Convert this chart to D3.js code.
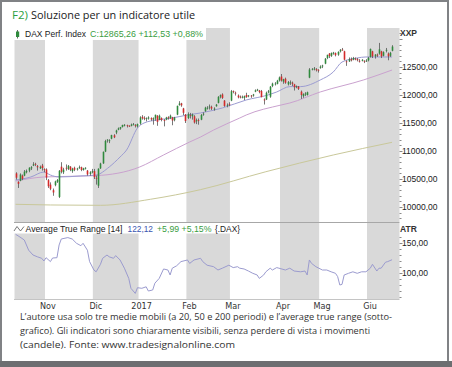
<!DOCTYPE html>
<html><head><meta charset="utf-8">
<script src="https://cdn.jsdelivr.net/npm/d3@7"></script>
<style>body{margin:0;background:#fff}svg{display:block}</style>
</head><body><svg id="c" width="452" height="367"></svg>
<script>
const dates = [
"2016-10-12","2016-10-13","2016-10-14","2016-10-17","2016-10-18","2016-10-19","2016-10-20","2016-10-21","2016-10-24","2016-10-25","2016-10-26","2016-10-27","2016-10-28","2016-10-31",
"2016-11-01","2016-11-02","2016-11-03","2016-11-04","2016-11-07","2016-11-08","2016-11-09","2016-11-10","2016-11-11","2016-11-14","2016-11-15","2016-11-16","2016-11-17","2016-11-18","2016-11-21","2016-11-22","2016-11-23","2016-11-24","2016-11-25","2016-11-28","2016-11-29","2016-11-30",
"2016-12-01","2016-12-02","2016-12-05","2016-12-06","2016-12-07","2016-12-08","2016-12-09","2016-12-12","2016-12-13","2016-12-14","2016-12-15","2016-12-16","2016-12-19","2016-12-20","2016-12-21","2016-12-22","2016-12-23","2016-12-27","2016-12-28","2016-12-29","2016-12-30",
"2017-01-02","2017-01-03","2017-01-04","2017-01-05","2017-01-06","2017-01-09","2017-01-10","2017-01-11","2017-01-12","2017-01-13","2017-01-16","2017-01-17","2017-01-18","2017-01-19","2017-01-20","2017-01-23","2017-01-24","2017-01-25","2017-01-26","2017-01-27","2017-01-30","2017-01-31",
"2017-02-01","2017-02-02","2017-02-03","2017-02-06","2017-02-07","2017-02-08","2017-02-09","2017-02-10","2017-02-13","2017-02-14","2017-02-15","2017-02-16","2017-02-17","2017-02-20","2017-02-21","2017-02-22","2017-02-23","2017-02-24","2017-02-27","2017-02-28",
"2017-03-01","2017-03-02","2017-03-03","2017-03-06","2017-03-07","2017-03-08","2017-03-09","2017-03-10","2017-03-13","2017-03-14","2017-03-15","2017-03-16","2017-03-17","2017-03-20","2017-03-21","2017-03-22","2017-03-23","2017-03-24","2017-03-27","2017-03-28","2017-03-29","2017-03-30","2017-03-31",
"2017-04-03","2017-04-04","2017-04-05","2017-04-06","2017-04-07","2017-04-10","2017-04-11","2017-04-12","2017-04-13","2017-04-18","2017-04-19","2017-04-20","2017-04-21","2017-04-24","2017-04-25","2017-04-26","2017-04-27","2017-04-28",
"2017-05-02","2017-05-03","2017-05-04","2017-05-05","2017-05-08","2017-05-09","2017-05-10","2017-05-11","2017-05-12","2017-05-15","2017-05-16","2017-05-17","2017-05-18","2017-05-19","2017-05-22","2017-05-23","2017-05-24","2017-05-25","2017-05-26","2017-05-29","2017-05-30","2017-05-31",
"2017-06-01","2017-06-02","2017-06-06","2017-06-07","2017-06-08","2017-06-09","2017-06-12","2017-06-13","2017-06-14","2017-06-15","2017-06-16","2017-06-19"];

const open = [
10600,10450,10470,10560,10560,10620,10650,10690,10740,10770,10730,10690,10740,10680,
10670,10480,10400,10300,10390,10450,10180,10720,10620,10700,10680,10720,10640,10700,10670,10700,10710,10660,10690,10650,10590,10620,
10640,10520,10380,10690,10780,10990,11190,11180,11220,11280,11330,11380,11400,11430,11460,11460,11450,11450,11470,11460,11440,
11490,11610,11590,11580,11580,11590,11560,11580,11630,11560,11590,11550,11560,11600,11590,11600,11550,11650,11820,11850,11760,11650,
11590,11640,11620,11620,11530,11550,11560,11650,11710,11770,11780,11790,11740,11800,11860,11970,12010,11900,11820,11840,
11900,12070,12040,11990,11970,11960,11950,12000,11980,11990,11990,12060,12090,12080,12070,11920,11920,12050,11970,12160,12200,12200,12260,
12330,12240,12290,12190,12220,12220,12190,12150,12150,12060,11980,12010,12000,12310,12460,12470,12460,12450,
12480,12510,12560,12660,12740,12700,12740,12750,12720,12780,12810,12780,12600,12600,12640,12630,12650,12640,12610,12610,12610,12600,
12620,12680,12780,12690,12720,12740,12780,12700,12790,12740,12700,12790];
const high = [
10620,10460,10600,10580,10660,10670,10710,10730,10800,10790,10750,10740,10770,10690,
10690,10500,10440,10330,10470,10500,10660,10800,10700,10760,10750,10730,10700,10720,10700,10740,10720,10700,10710,10660,10640,10680,
10680,10560,10690,10790,10990,11200,11210,11210,11290,11300,11380,11420,11430,11470,11480,11470,11460,11490,11500,11480,11490,
11620,11640,11620,11600,11620,11600,11600,11650,11640,11650,11600,11570,11610,11620,11650,11610,11610,11810,11890,11860,11770,11660,
11690,11680,11670,11640,11580,11580,11660,11690,11790,11800,11830,11810,11780,11840,11980,12010,12030,11910,11850,11870,
12090,12080,12060,12010,11990,11990,11990,12040,12000,12000,12020,12100,12110,12090,12090,11940,12060,12090,12160,12220,12230,12270,12330,
12375,12290,12310,12250,12260,12240,12200,12170,12160,12080,12030,12050,12060,12480,12480,12500,12480,12460,
12530,12540,12660,12720,12750,12760,12770,12760,12780,12820,12840,12790,12620,12670,12670,12680,12670,12660,12640,12640,12620,12640,
12680,12830,12790,12730,12740,12930,12790,12780,12840,12760,12770,12890];
const low = [
10490,10340,10460,10480,10550,10600,10620,10660,10730,10730,10650,10680,10650,10620,
10480,10340,10300,10200,10370,10430,10160,10600,10590,10650,10660,10640,10610,10640,10650,10680,10640,10650,10670,10560,10560,10600,
10500,10400,10340,10680,10770,10980,11150,11140,11210,11230,11300,11370,11380,11420,11440,11420,11430,11440,11460,11420,11420,
11470,11560,11550,11530,11560,11540,11470,11540,11450,11550,11530,11440,11550,11560,11570,11460,11530,11640,11810,11790,11640,11500,
11570,11580,11560,11490,11480,11470,11550,11630,11700,11740,11740,11730,11720,11790,11850,11940,11930,11790,11780,11800,
11890,12030,11990,11940,11940,11940,11910,11950,11960,11950,11970,12050,12070,12030,11960,11830,11910,12030,11950,12140,12170,12190,12240,
12240,12200,12200,12170,12180,12160,12080,12120,12090,11930,11950,11980,11990,12300,12440,12440,12420,12400,
12470,12480,12550,12640,12660,12680,12720,12690,12700,12760,12790,12620,12520,12590,12600,12620,12620,12600,12580,12600,12570,12590,
12600,12670,12660,12650,12680,12720,12660,12690,12760,12620,12680,12780];
const close = [
10523,10414,10580,10504,10631,10645,10701,10710,10761,10757,10709,10717,10696,10665,
10526,10370,10325,10259,10456,10482,10646,10630,10668,10693,10735,10663,10685,10664,10687,10713,10662,10689,10700,10582,10621,10640,
10534,10513,10684,10775,10986,11179,11203,11190,11284,11244,11366,11404,11427,11464,11468,11456,11449,11472,11475,11451,11481,
11599,11584,11585,11584,11599,11563,11583,11646,11521,11629,11555,11540,11599,11597,11630,11545,11595,11806,11848,11815,11682,11535,
11659,11627,11651,11509,11549,11543,11643,11666,11774,11772,11793,11757,11757,11827,11967,11998,11947,11804,11823,11834,
12067,12059,12027,11958,11966,11967,11978,11963,11990,11988,12009,12083,12095,12052,11962,11904,12040,12064,12149,12203,12204,12256,12313,
12257,12282,12218,12230,12225,12200,12139,12154,12109,12000,12016,12027,12049,12455,12467,12472,12443,12438,
12507,12527,12648,12717,12694,12749,12757,12711,12770,12808,12804,12631,12590,12638,12619,12659,12642,12621,12602,12629,12599,12615,
12664,12822,12690,12722,12714,12816,12690,12765,12806,12691,12753,12865];

// moving averages (trading-day index, value)
const ma20Idx = [0,7,13,16,20,30,37,43,48,51,56,59,65,72,79,85,95,106,116,120,126,131,140,146,150,157,161,173];
const ma20Val = [10482,10536,10625,10571,10536,10554,10571,10714,10893,11018,11410,11500,11554,11590,11643,11679,11768,11911,12000,12054,12150,12150,12268,12411,12589,12661,12679,12679];
const ma50Idx = [0,13,37,57,68,80,85,91,103,106,122,126,140,160,173];
const ma50Val = [10464,10536,10560,10714,10929,11161,11250,11375,11589,11643,11821,11857,12054,12270,12446];
const ma200Idx = [0,16,39,62,85,115,146,173];
const ma200Val = [10048,10036,10030,10138,10310,10630,10929,11155];

// Average True Range (14)
const atrIdx = [0,2,4,6,8,10,12,13,14,16,17,19,20,21,24,26,28,30,31,33,34,36,37,39,40,42,43,45,46,48,50,52,53,55,56,58,60,61,63,64,66,68,70,71,72,74,76,79,80,82,85,86,88,91,93,95,98,100,102,103,105,107,109,111,112,114,115,117,118,120,121,124,126,128,131,133,134,135,136,138,141,143,145,147,148,149,150,151,153,155,157,159,161,163,164,166,167,168,170,171,173];
const atrVal = [164.5,160,155,138,130,127,124.5,120,125.5,119,125,125.5,146.7,156.7,159,156.7,149.5,145.5,149.5,138,119,105,102,114.5,124.5,130,127,124.5,129,121.7,108,91,74.5,66,75.5,74.5,77,70,71.7,83,91,106.7,105,96.7,108,112,119,121.7,116,121.7,124.5,119,113,110.5,105,108,113,109,110.5,108,106.7,103.3,99.5,96.7,91,96.7,102,108,105,109,108,105,108,103.3,102,103.3,96.7,121.7,116,110.5,105,105,102,99.5,94,80,81,96.7,99.5,102,99.5,102,102,108,114.5,103.3,108,108,118,119,122.12];

const monthLabels = ["Nov","Dic","2017","Feb","Mar","Apr","Mag","Giu"];
const priceTicks = [10000,10500,11000,11500,12000,12500];
const atrTicks = [100,150];

const titleTag = "F2)";
const titleText = "Soluzione  per  un  indicatore  utile";
const priceLegend = ["DAX Perf. Index", "C:12865,26 +112,53 +0,88%"];
const atrLegend = ["Average True Range [14]", "122,12", "+5,99 +5,15%", "{.DAX}"];
const caption = [
 "L\u2019autore usa solo tre medie mobili (a 20, 50 e 200 periodi) e l\u2019average true range (sotto-",
 "grafico). Gli indicatori sono chiaramente visibili, senza perdere di vista i movimenti",
 "(candele). Fonte: www.tradesignalonline.com"];

// ---------- drawing ----------
const svg = d3.select("#c");
const L = 14, R = 399.5, pTop = 28, pBot = 222, aTop = 223, aBot = 299;
const n = Math.min(dates.length, open.length, high.length, low.length, close.length);
const x = d3.scaleLinear().domain([0, 173]).range([15.6, 15.6 + 2.176 * 173]);
const yP = d3.scaleLinear().domain([10000, 12500]).range([207, 67]);
const yA = d3.scaleLinear().domain([100, 150]).range([273, 243]);
const AX = "'Liberation Sans', Arial, sans-serif";
const GREEN = "#3a9d3f", RED = "#d42a2a", CGREEN = "#2e8a3c";

// frame
svg.append("rect").attr("x",1).attr("y",1).attr("width",447).attr("height",362)
  .attr("fill","#fff").attr("stroke","#808285").attr("stroke-width",2);
svg.append("rect").attr("x",0).attr("y",361).attr("width",452).attr("height",6).attr("fill","#6d6e71");

// month groups
const groups = [];
for (let i = 0; i < n; i++) {
  const k = dates[i].slice(0,7);
  if (!groups.length || groups[groups.length-1].k !== k) groups.push({k, s:i, e:i});
  else groups[groups.length-1].e = i;
}
groups.forEach((g, gi) => {
  g.x0 = Math.max(L, x(g.s - 0.5));
  g.x1 = gi === groups.length - 1 ? R : x(g.e + 0.5);
});
const grayG = groups.filter((g, gi) => gi % 2 === 0);
[[pTop,pBot],[aTop,aBot]].forEach(([t,b]) => {
  svg.append("g").selectAll("rect").data(grayG).join("rect")
    .attr("x", d => d.x0).attr("y", t).attr("width", d => d.x1 - d.x0).attr("height", b - t)
    .attr("fill", "#d9d9d9");
});

// legend backgrounds
svg.append("rect").attr("x",L).attr("y",pTop).attr("width",192).attr("height",12).attr("fill","#fff");
svg.append("rect").attr("x",L).attr("y",aTop).attr("width",229).attr("height",10.5).attr("fill","#fff");

// separators
svg.append("line").attr("x1",L).attr("x2",R).attr("y1",222.5).attr("y2",222.5).attr("stroke","#a7a7a7");
svg.append("line").attr("x1",L).attr("x2",R).attr("y1",aBot+0.5).attr("y2",aBot+0.5).attr("stroke","#c4c4c4");

// moving averages
const maLine = d3.line().x(d => x(d[0])).y(d => yP(d[1])).curve(d3.curveMonotoneX);
[[ma200Idx, ma200Val, "#c9c89a"], [ma50Idx, ma50Val, "#caa2cf"], [ma20Idx, ma20Val, "#9c9cd2"]]
  .forEach(([ix, vv, col]) => {
    svg.append("path").attr("d", maLine(ix.map((d,i) => [d, vv[i]])))
      .attr("fill","none").attr("stroke",col).attr("stroke-width",1);
  });

// candles
const cd = d3.range(n).map(i => ({i, o:open[i], h:high[i], l:low[i], c:close[i]}));
const cg = svg.append("g");
cg.selectAll("line").data(cd).join("line")
  .attr("x1", d => Math.round(x(d.i)) + 0.5).attr("x2", d => Math.round(x(d.i)) + 0.5)
  .attr("y1", d => yP(d.h)).attr("y2", d => yP(d.l))
  .attr("stroke", "#555").attr("stroke-width", 0.8);
cg.selectAll("rect").data(cd).join("rect")
  .attr("x", d => Math.round(x(d.i)) - 0.3).attr("width", 1.6)
  .attr("y", d => yP(Math.max(d.o, d.c)))
  .attr("height", d => Math.max(0.8, Math.abs(yP(d.o) - yP(d.c))))
  .attr("fill", d => d.c >= d.o ? CGREEN : RED);

// ATR line
svg.append("path")
  .attr("d", d3.line().x(d => x(d[0])).y(d => yA(d[1]))(atrIdx.map((d,i) => [d, atrVal[i]])))
  .attr("fill","none").attr("stroke","#9b9bcf").attr("stroke-width",1);

// right axes
const pMinor = d3.range(9800, 13201, 100).filter(v => yP(v) > pTop && yP(v) < pBot);
svg.append("g").selectAll("line").data(pMinor).join("line")
  .attr("x1", R).attr("x2", d => d % 500 === 0 ? R + 3 : R + 2)
  .attr("y1", d => Math.round(yP(d)) + 0.5).attr("y2", d => Math.round(yP(d)) + 0.5)
  .attr("stroke", "#8a8a8a").attr("stroke-width", 1);
const aMinor = d3.range(60, 190, 10).filter(v => yA(v) > aTop + 10 && yA(v) < aBot);
svg.append("g").selectAll("line").data(aMinor).join("line")
  .attr("x1", R).attr("x2", d => d % 50 === 0 ? R + 3 : R + 2)
  .attr("y1", d => Math.round(yA(d)) + 0.5).attr("y2", d => Math.round(yA(d)) + 0.5)
  .attr("stroke", "#8a8a8a").attr("stroke-width", 1);
const fmt = v => v.toFixed(2).replace(".", ",");
svg.append("g").selectAll("text").data(priceTicks).join("text")
  .attr("x", 402).attr("y", d => yP(d) + 3).text(fmt)
  .attr("font-family", AX).attr("font-size", 8.5).attr("fill", "#222");
svg.append("g").selectAll("text").data(atrTicks).join("text")
  .attr("x", 402).attr("y", d => yA(d) + 3).text(fmt)
  .attr("font-family", AX).attr("font-size", 8.5).attr("fill", "#222");
svg.append("text").attr("x",400).attr("y",36).text("XXP")
  .attr("font-family",AX).attr("font-size",8.5).attr("font-weight","bold").attr("fill","#333");
svg.append("text").attr("x",400).attr("y",232).text("ATR")
  .attr("font-family",AX).attr("font-size",8.5).attr("font-weight","bold").attr("fill","#333");

// month labels
svg.append("g").selectAll("text").data(groups.slice(1)).join("text")
  .attr("x", d => d.x0 + 3).attr("y", 309).attr("text-anchor","middle")
  .text((d,i) => monthLabels[i])
  .attr("font-family","'DejaVu Sans Condensed','Liberation Sans Narrow',sans-serif")
  .attr("font-size", 9).attr("fill","#333");

// price legend
svg.append("line").attr("x1",17.5).attr("x2",17.5).attr("y1",30).attr("y2",38.5).attr("stroke","#444").attr("stroke-width",0.8);
svg.append("rect").attr("x",16).attr("y",31.5).attr("width",3.2).attr("height",5.5).attr("fill",CGREEN);
svg.append("text").attr("x",25).attr("y",36.5).text(priceLegend[0])
  .attr("font-family",AX).attr("font-size",8.8).attr("fill","#222")
  .attr("textLength",61).attr("lengthAdjust","spacingAndGlyphs");
svg.append("text").attr("x",90).attr("y",36.5).text(priceLegend[1])
  .attr("font-family",AX).attr("font-size",8.8).attr("fill",GREEN)
  .attr("textLength",113).attr("lengthAdjust","spacingAndGlyphs");

// ATR legend
svg.append("path").attr("d","M14,231 L17,226.5 L20.5,231 L24,226.5").attr("fill","none").attr("stroke","#555").attr("stroke-width",0.8);
const atrLx = [[25.5,97,"#222"],[127.5,25.5,"#3b55b0"],[157,54.5,GREEN],[215,25,"#222"]];
atrLegend.forEach((t,i) => {
  svg.append("text").attr("x",atrLx[i][0]).attr("y",231.5).text(t)
    .attr("font-family",AX).attr("font-size",8.8).attr("fill",atrLx[i][2])
    .attr("textLength",atrLx[i][1]).attr("lengthAdjust","spacingAndGlyphs");
});

// title
const TF = "'Open Sans','Noto Sans',sans-serif";
svg.append("text").attr("x",12).attr("y",18.5).text(titleTag)
  .attr("font-family",TF).attr("font-size",10.5).attr("fill","#2aa040")
  .attr("textLength",16).attr("lengthAdjust","spacingAndGlyphs");
svg.append("text").attr("x",31).attr("y",18.5).text(titleText)
  .attr("font-family",TF).attr("font-size",10.5).attr("fill","#222")
  .attr("textLength",164).attr("lengthAdjust","spacingAndGlyphs");

// caption
const capW = [372, 350, 215], capY = [320.3, 334.2, 348.3];
caption.forEach((t,i) => {
  svg.append("text").attr("x",20).attr("y",capY[i]).text(t)
    .attr("font-family",TF).attr("font-size",9.3).attr("fill","#333")
    .attr("textLength",capW[i]).attr("lengthAdjust","spacingAndGlyphs");
});
</script></body></html>
